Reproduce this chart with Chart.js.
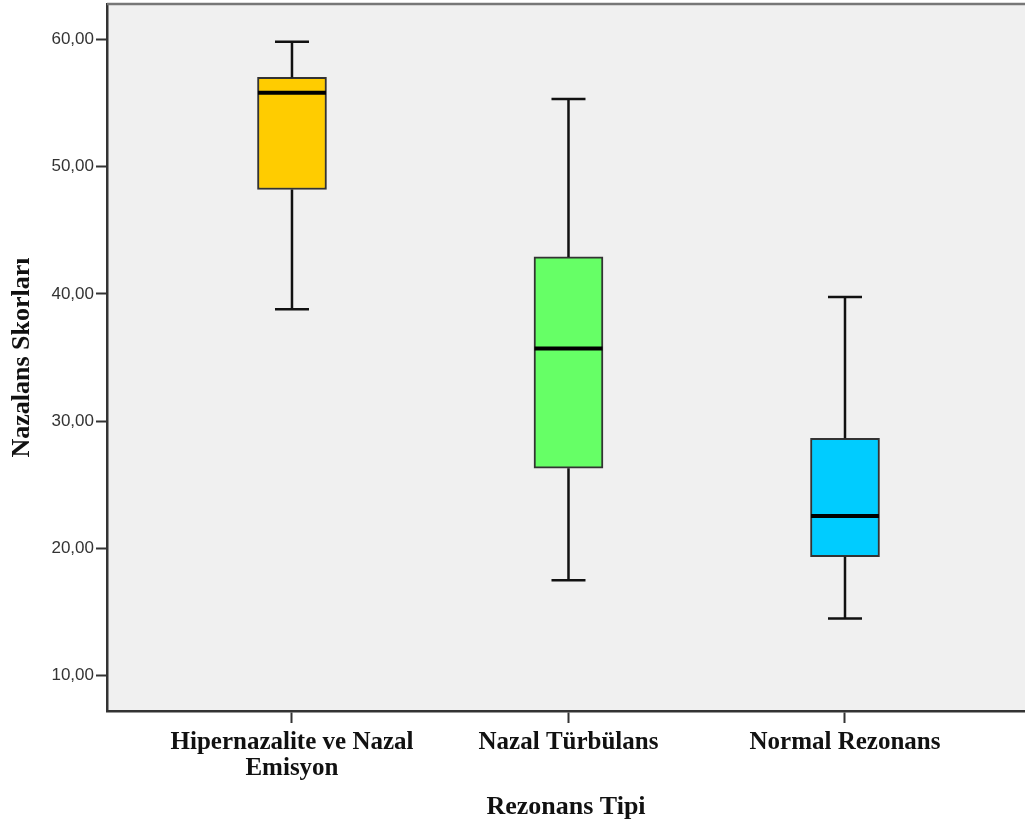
<!DOCTYPE html>
<html>
<head>
<meta charset="utf-8">
<script src="https://cdn.jsdelivr.net/npm/chart.js@4"></script>
<style>
  body { margin:0; background:#fff; }
  #wrap { width:1025px; height:828px; position:relative; }
</style>
</head>
<body>
<div id="wrap"><canvas id="boxChart"></canvas></div>
<script>
// box plot values
const groups = [['Hipernazalite ve Nazal', 'Emisyon'], 'Nazal Türbülans', 'Normal Rezonans'];
const whiskerLow  = [38.8, 17.5, 14.5];
const q1          = [48.2, 26.3, 19.35];
const median      = [55.8, 35.7, 22.55];
const q3          = [57.0, 42.9, 28.65];
const whiskerHigh = [59.8, 55.3, 39.75];
const boxColors = ['#FFCC00', '#66FF66', '#00CCFF'];
const yTicks = [10, 20, 30, 40, 50, 60];

const serif = "'Liberation Serif', 'DejaVu Serif', serif";
const sans = "'Liberation Sans', Arial, sans-serif";

// plot background + top frame line
const frame = {
  id: 'frame',
  beforeDraw(chart){
    const {ctx, chartArea:a} = chart;
    ctx.save();
    ctx.fillStyle = '#F0F0F0';
    ctx.fillRect(a.left, a.top, a.right - a.left, a.bottom - a.top);
    ctx.restore();
  },
  afterDraw(chart){
    const {ctx, chartArea:a} = chart;
    ctx.save();
    ctx.strokeStyle = '#777';
    ctx.lineWidth = 2.5;
    ctx.beginPath();
    ctx.moveTo(a.left, a.top);
    ctx.lineTo(a.right, a.top);
    ctx.stroke();
    ctx.restore();
  }
};

// whiskers and medians, positioned through the chart scales
const whiskers = {
  id: 'whiskers',
  afterDatasetsDraw(chart){
    const {ctx, scales:{x, y}} = chart;
    ctx.save();
    groups.forEach((g, i) => {
      const cx = x.getPixelForValue(i);
      ctx.strokeStyle = '#111';
      ctx.lineWidth = 2.5;
      ctx.beginPath();
      ctx.moveTo(cx, y.getPixelForValue(q3[i]));
      ctx.lineTo(cx, y.getPixelForValue(whiskerHigh[i]));
      ctx.moveTo(cx, y.getPixelForValue(q1[i]));
      ctx.lineTo(cx, y.getPixelForValue(whiskerLow[i]));
      ctx.moveTo(cx - 17, y.getPixelForValue(whiskerHigh[i]));
      ctx.lineTo(cx + 17, y.getPixelForValue(whiskerHigh[i]));
      ctx.moveTo(cx - 17, y.getPixelForValue(whiskerLow[i]));
      ctx.lineTo(cx + 17, y.getPixelForValue(whiskerLow[i]));
      ctx.stroke();
      ctx.strokeStyle = '#000';
      ctx.lineWidth = 4;
      ctx.beginPath();
      ctx.moveTo(cx - 34, y.getPixelForValue(median[i]));
      ctx.lineTo(cx + 34, y.getPixelForValue(median[i]));
      ctx.stroke();
    });
    ctx.restore();
  }
};

new Chart(document.getElementById('boxChart'), {
  type: 'bar',
  data: {
    datasets: [{
      data: q1.map((v, i) => ({x: i, y: [v, q3[i]]})),
      backgroundColor: boxColors,
      borderColor: '#333',
      borderWidth: 2,
      borderSkipped: false,
      barThickness: 69,
      grouped: false
    }]
  },
  options: {
    responsive: true,
    maintainAspectRatio: false,
    animation: false,
    layout: { padding: { top: 4, right: 0, left: 0, bottom: 0 } },
    plugins: { legend: { display:false }, tooltip: { enabled:false } },
    scales: {
      x: {
        type: 'linear',
        offset: false,
        min: -0.669,
        max: 2.651,
        afterBuildTicks: s => { s.ticks = [0, 1, 2].map(v => ({value: v})); },
        afterFit: s => { s.height = 117; s.paddingLeft = 0; s.paddingRight = 0; },
        ticks: {
          callback: v => groups[v],
          color: '#111',
          padding: 7,
          maxRotation: 0,
          autoSkip: false,
          font: { family: serif, size: 25, weight: 'bold', lineHeight: 1.03 }
        },
        grid: { offset:false, drawOnChartArea:false, drawTicks:true, tickLength:12, color:'#333', tickWidth:2 },
        border: { display:true, color:'#333', width:2.5 },
        title: {
          display: true,
          text: 'Rezonans Tipi',
          color: '#111',
          padding: { top: 0, bottom: 5 },
          font: { family: serif, size: 26, weight: 'bold', lineHeight: 1.2 }
        }
      },
      y: {
        min: 7.23,
        max: 62.77,
        afterBuildTicks: s => { s.ticks = yTicks.map(v => ({value: v})); },
        afterFit: s => { s.width = 107; s.paddingTop = 0; s.paddingBottom = 0; },
        ticks: {
          callback: v => v.toFixed(2).replace('.', ','),
          color: '#333',
          padding: 2,
          font: { family: sans, size: 17 }
        },
        grid: { drawOnChartArea:false, drawTicks:true, tickLength:11, color:'#333', tickWidth:2 },
        border: { display:true, color:'#333', width:2.5 },
        title: {
          display: true,
          text: 'Nazalans Skorları',
          color: '#111',
          padding: { top: 7, bottom: 0 },
          font: { family: serif, size: 26, weight: 'bold', lineHeight: 1.2 }
        }
      }
    }
  },
  plugins: [frame, whiskers]
});
</script>
</body>
</html>
